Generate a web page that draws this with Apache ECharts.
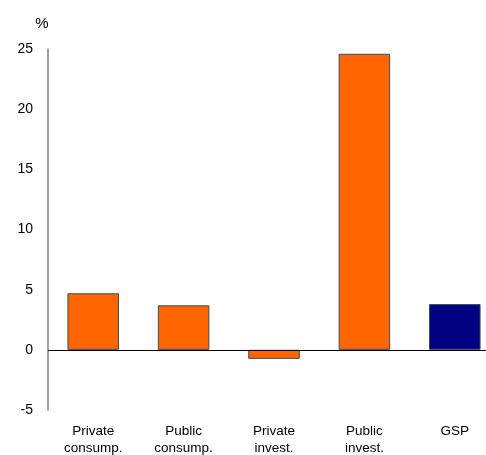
<!DOCTYPE html>
<html><head><meta charset="utf-8">
<script src="https://cdn.jsdelivr.net/npm/echarts@6/dist/echarts.min.js"></script>
<style>html,body{margin:0;padding:0;background:#fff;overflow:hidden}#c{width:486px;height:455px}</style>
</head><body><div id="c"></div>
<script>
const categories = ["Private\nconsump.", "Public\nconsump.", "Private\ninvest.", "Public\ninvest.", "GSP"];
const values = [4.7, 3.7, -0.75, 24.6, 3.8];
const barColors = ["#FF6600", "#FF6600", "#FF6600", "#FF6600", "#000080"];
const yTicks = [-5, 0, 5, 10, 15, 20, 25];

const chart = echarts.init(document.getElementById('c'), null, {renderer: 'canvas'});
chart.setOption({
  animation: false,
  grid: {left: 48, top: 49, height: 361, width: 452, containLabel: false, outerBoundsMode: 'none'},
  xAxis: {
    type: 'category', data: categories,
    axisLine: {show: false}, axisTick: {show: false},
    axisLabel: {color: '#000', fontFamily: 'Liberation Sans, Arial', fontSize: 13.5, margin: 13, lineHeight: 17, interval: 0}
  },
  yAxis: {
    type: 'value', min: yTicks[0], max: yTicks[yTicks.length-1], interval: 5,
    name: '%', nameLocation: 'end', nameGap: 18,
    nameTextStyle: {color: '#000', fontFamily: 'Liberation Sans, Arial', fontSize: 15, align: 'center', padding: [0, 12, 0, 0]},
    axisLine: {show: true, lineStyle: {color: '#808080', width: 1.5}},
    axisTick: {show: false}, splitLine: {show: false},
    axisLabel: {color: '#000', fontFamily: 'Liberation Sans, Arial', fontSize: 14, margin: 15}
  },
  series: [{
    type: 'bar', barCategoryGap: '43%',
    data: values.map((v, i) => ({value: v, itemStyle: {color: barColors[i], borderColor: '#3a4a5a', borderWidth: 1}})),
    markLine: {silent: true, symbol: 'none', label: {show: false},
      lineStyle: {color: '#000', width: 1, type: 'solid'}, data: [{yAxis: 0}]}
  }]
});
</script></body></html>
